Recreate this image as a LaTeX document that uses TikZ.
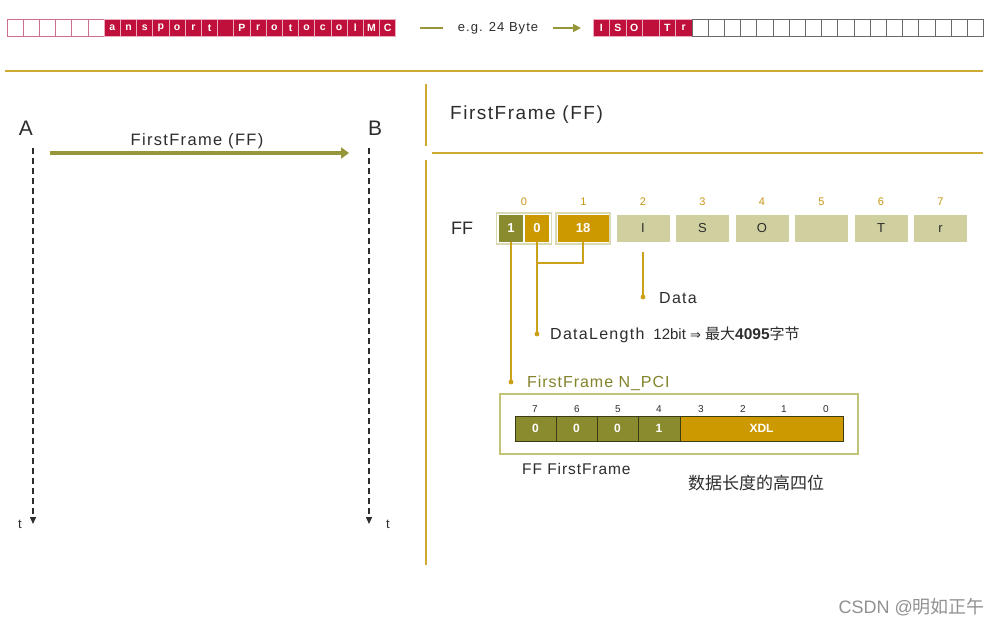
\documentclass[tikz,border=0pt]{standalone}
\usepackage{fontspec}
\setmainfont{Liberation Sans}
\newfontfamily\cjk{Noto Sans CJK SC}
\newfontfamily\dejavu{DejaVu Sans}
\usetikzlibrary{arrows.meta}
\definecolor{crim}{RGB}{190,16,58}
\definecolor{pinkb}{RGB}{205,110,140}
\definecolor{pinksep}{RGB}{235,170,190}
\definecolor{grayb}{RGB}{105,105,105}
\definecolor{olivec}{RGB}{138,138,46}
\definecolor{arrowol}{RGB}{150,150,58}
\definecolor{goldc}{RGB}{204,153,0}
\definecolor{lightc}{RGB}{207,207,160}
\definecolor{divc}{RGB}{205,170,50}
\definecolor{linkc}{RGB}{205,160,25}
\definecolor{txt}{RGB}{45,45,45}
\definecolor{numc}{RGB}{200,150,20}
\definecolor{boxb}{RGB}{195,195,120}
\definecolor{bitb}{RGB}{60,60,20}
\definecolor{wm}{RGB}{145,145,145}
\newcommand\fs[1]{\fontsize{#1}{#1}\selectfont}
\newcommand\ls[1]{\addfontfeature{LetterSpace=#1}}
\begin{document}
\begin{tikzpicture}[x=1pt,y=-1pt,
  topcell/.style={minimum width=16.2pt, minimum height=17pt, inner sep=0pt, outer sep=0pt, anchor=west},
  rcell/.style={topcell, fill=crim, draw=pinksep, line width=1pt, text=white, font=\bfseries\fs{10.5}},
  wcell/.style={topcell, draw=pinkb, line width=1pt},
  gcell/.style={topcell, draw=grayb, line width=1pt},
  divider/.style={draw=divc, line width=1.3pt},
  lifeline/.style={draw=txt, line width=1.4pt, dash pattern=on 6pt off 4pt, -{Triangle[length=7pt,width=6pt]}},
  lbl/.style={text=txt, inner sep=0pt},
  fcell/.style={minimum width=53pt, minimum height=27pt, inner sep=0pt, outer sep=0pt, fill=lightc, text=txt, font=\fs{13}},
  hcell/.style={minimum width=24pt, minimum height=27pt, inner sep=0pt, outer sep=0pt, text=white, font=\bfseries\fs{13}},
  outline/.style={draw=lightc!80, line width=1.6pt, inner sep=0pt},
  colnum/.style={text=numc, font=\fs{11}, inner sep=0pt},
  link/.style={draw=linkc, line width=1.5pt},
  bcell/.style={minimum width=41pt, minimum height=25pt, inner sep=0pt, outer sep=0pt, fill=olivec, draw=bitb, line width=0.8pt, text=white, font=\bfseries\fs{12}},
  bitnum/.style={text=txt, font=\fs{10}, inner sep=0pt},
  olarrow/.style={draw=arrowol, line width=1.8pt}
]
\useasboundingbox (0,0) rectangle (1001,627);
\fill[white] (0,0) rectangle (1001,627);

% ---------- top bar ----------
\foreach \i in {0,...,5} \node[wcell] (tw\i) at ({7+16.2*\i},28) {};
\foreach \l [count=\i from 0] in {a,n,s,p,o,r,t,{},P,r,o,t,o,c,o,l,M,C}
  \node[rcell] (tr\i) at ({104.2+16.2*\i},28) {\l};
\foreach \l [count=\i from 0] in {I,S,O,{},T,r}
  \node[rcell, minimum width=16.5pt] (ur\i) at ({593+16.5*\i},28) {\l};
\foreach \i in {0,...,17} \node[gcell] (ug\i) at ({692+16.2*\i},28) {};
\node[lbl, font=\fs{13}\ls{8}] (eg) at (498,28) {e.g. 24 Byte};
\coordinate (m1) at (420,28); \coordinate (m2) at (443,28);
\coordinate (m3) at (553,28); \coordinate (m4) at (581,28);
\draw[olarrow] (m1) -- (m2);
\draw[olarrow, -{Triangle[length=8pt,width=8pt]}] (m3) -- (m4);

% ---------- dividers ----------
\draw[divider] (5,71) -- (983,71);
\draw[divider] (426,84) -- (426,146);
\draw[divider] (432,153) -- (983,153);
\draw[divider] (426,160) -- (426,565);

% ---------- sequence (left) ----------
\node[lbl, font=\fs{21}] (A) at (26,128) {A};
\node[lbl, font=\fs{21}] (B) at (375,128) {B};
\coordinate (a1) at (33,148); \coordinate (a2) at (33,524);
\coordinate (b1) at (369,148); \coordinate (b2) at (369,524);
\draw[lifeline] (a1) -- (a2);
\draw[lifeline] (b1) -- (b2);
\node[lbl, font=\fs{13}] (ta) at (20,524) {t};
\node[lbl, font=\fs{13}] (tb) at (388,524) {t};
\coordinate (s1) at (50,153); \coordinate (s2) at (349,153);
\draw[draw=arrowol, line width=4.5pt, -{Triangle[length=8pt,width=11pt]}] (s1) -- (s2);
\node[lbl, font=\fs{16.5}\ls{8}] (msg) at (197,141) {FirstFrame (FF)};

% ---------- right heading ----------
\node[lbl, font=\fs{19}\ls{8}, anchor=west] (head) at (450,115) {FirstFrame (FF)};

% ---------- FF frame ----------
\node[lbl, font=\fs{18}] (fflbl) at (462,228.5) {FF};
\node[outline, minimum width=55pt, minimum height=31pt] (c0) at (524,228.5) {};
\node[outline, minimum width=54pt, minimum height=31pt] (c1o) at (583,228.5) {};
\node[hcell, fill=olivec] (c0a) at (511,228.5) {1};
\node[hcell, fill=goldc] (c0b) at (537,228.5) {0};
\node[hcell, fill=goldc, minimum width=51pt] (c1) at (583,228.5) {18};
\foreach \l/\x [count=\i from 2] in {I/643,S/702.5,O/762,{}/821.5,T/881,r/940.5}
  \node[fcell] (c\i) at (\x,228.5) {\l};
\node[colnum] (n0) at (524,202) {0};
\foreach \i in {1,...,7} \node[colnum] (n\i) at ({583.5+59.5*(\i-1)},202) {\i};

% ---------- connectors ----------
\coordinate (dpci) at (511,382);
\coordinate (dlen) at (537,334);
\coordinate (br) at (537,263);
\coordinate (ddata) at (643,297);
\draw[link] (c0a.south) -- (dpci);
\draw[link] (c0b.south) -- (dlen);
\draw[link] (c1.south) -- (c1.south |- br) -- (br);
\draw[link, shorten <=10pt] (c2.south) -- (ddata);
\foreach \d in {dpci,dlen,ddata} \fill[linkc] (\d) circle (2.4pt);
\node[lbl, font=\fs{16}\ls{8}, anchor=west] (datalbl) at (659,298) {Data};
\node[lbl, anchor=west] (lenlbl) at (550,335) {{\fs{16}\ls{8}DataLength}\hspace{9pt}{\fs{15}12bit {\dejavu\fs{13}⇒} {\cjk\fs{15}最大}{\fs{15.5}\bfseries 4095}{\cjk\fs{15}字节}}};
\node[lbl, font=\fs{16}\ls{6}, text=olivec!95!black, anchor=west] (pcilbl) at (527,383) {FirstFrame N\_PCI};

% ---------- N_PCI box ----------
\node[draw=boxb, line width=1.5pt, minimum width=358pt, minimum height=60pt, inner sep=0pt] (pci) at (679,424) {};
\node[bcell] (b7) at (535.5,428.5) {0};
\node[bcell] (b6) at (576.5,428.5) {0};
\node[bcell] (b5) at (617.5,428.5) {0};
\node[bcell, minimum width=42pt] (b4) at (659,428.5) {1};
\node[bcell, fill=goldc, minimum width=163pt] (xdl) at (761.5,428.5) {XDL};
\foreach \n/\x in {7/535,6/577,5/618,4/659,3/701,2/743,1/784,0/826}
  \node[bitnum] (bn\n) at (\x,409) {\n};
\node[lbl, font=\fs{15.5}\ls{6}, anchor=west] (ffname) at (522,469) {FF FirstFrame};
\node[lbl, font=\cjk\fs{17}, anchor=west] (hi4) at (688,483) {数据长度的高四位};

% ---------- watermark ----------
\node[lbl, text=wm, font=\fs{18}, anchor=east] (wmk) at (985,607) {CSDN @{\cjk 明如正午}};
\end{tikzpicture}
\end{document}
